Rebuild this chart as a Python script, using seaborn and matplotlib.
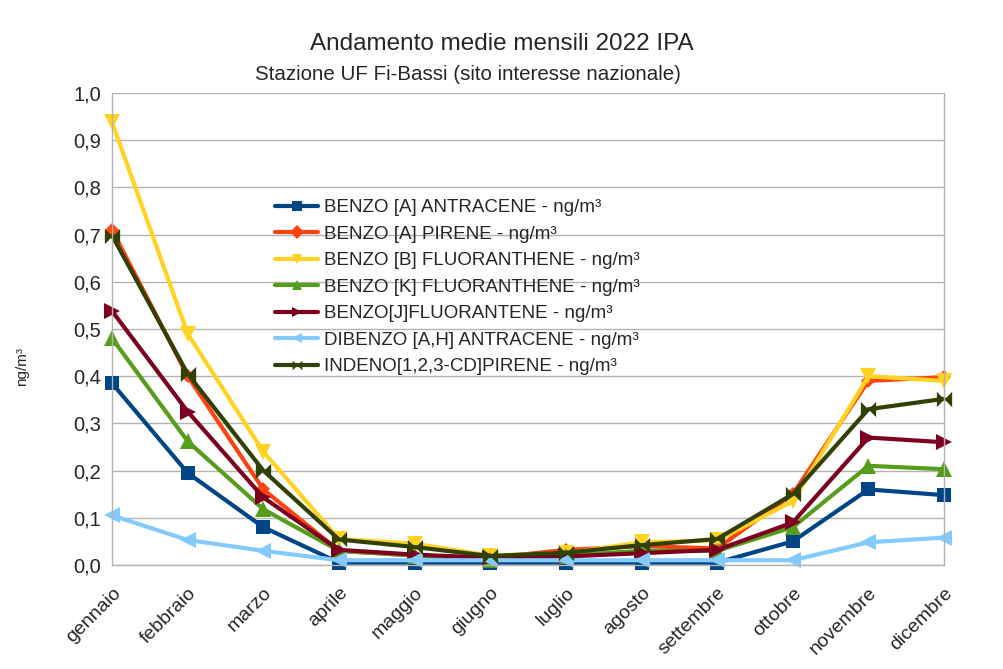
import numpy as np
import pandas as pd
import matplotlib
matplotlib.use("Agg")
import matplotlib.pyplot as plt
import seaborn as sns

# months and series (ng/m3)
mesi = ["gennaio", "febbraio", "marzo", "aprile", "maggio", "giugno",
        "luglio", "agosto", "settembre", "ottobre", "novembre", "dicembre"]

benzo_a_antracene = [0.385, 0.195, 0.080, 0.005, 0.005, 0.005, 0.005, 0.005, 0.005, 0.050, 0.160, 0.148]
benzo_a_pirene = [0.710, 0.400, 0.160, 0.030, 0.020, 0.015, 0.032, 0.040, 0.035, 0.150, 0.390, 0.398]
benzo_b_fluoranthene = [0.938, 0.490, 0.240, 0.055, 0.045, 0.020, 0.025, 0.048, 0.052, 0.135, 0.400, 0.390]
benzo_k_fluoranthene = [0.480, 0.262, 0.118, 0.030, 0.020, 0.010, 0.020, 0.030, 0.030, 0.080, 0.210, 0.203]
benzo_j_fluorantene = [0.538, 0.325, 0.143, 0.032, 0.022, 0.015, 0.018, 0.025, 0.032, 0.090, 0.270, 0.260]
dibenzo_ah_antracene = [0.105, 0.053, 0.030, 0.010, 0.010, 0.010, 0.010, 0.010, 0.010, 0.010, 0.048, 0.058]
indeno_pirene = [0.698, 0.405, 0.200, 0.054, 0.038, 0.019, 0.026, 0.042, 0.055, 0.150, 0.330, 0.352]

nomi = ["BENZO [A] ANTRACENE - ng/m³",
        "BENZO [A] PIRENE - ng/m³",
        "BENZO [B] FLUORANTHENE - ng/m³",
        "BENZO [K] FLUORANTHENE - ng/m³",
        "BENZO[J]FLUORANTENE - ng/m³",
        "DIBENZO [A,H] ANTRACENE - ng/m³",
        "INDENO[1,2,3-CD]PIRENE - ng/m³"]
serie = [benzo_a_antracene, benzo_a_pirene, benzo_b_fluoranthene, benzo_k_fluoranthene,
         benzo_j_fluorantene, dibenzo_ah_antracene, indeno_pirene]

colori = ["#004586", "#ff420e", "#ffd320", "#579d1c", "#7e0021", "#83caff", "#314004"]
bowtie = [(-1, -1), (1, 1), (1, -1), (-1, 1), (-1, -1)]
marcatori = ["s", "D", "v", "^", ">", "<", bowtie]
dimensioni = [10, 7, 11, 11, 11, 11, 11]

# long-format table
rows = []
for nome, vals in zip(nomi, serie):
    for m, v in zip(mesi, vals):
        rows.append({"mese": m, "valore": v, "serie": nome})
df = pd.DataFrame(rows)

sns.set_style("white")
plt.rcParams["font.family"] = ["Liberation Sans", "DejaVu Sans"]

fig = plt.figure(figsize=(10.04, 6.69), dpi=100)
ax = fig.add_axes([0.1116, 0.1555, 0.8287, 0.7055])

for nome, col, mk, ms in zip(nomi, colori, marcatori, dimensioni):
    sub = df[df["serie"] == nome]
    sns.lineplot(data=sub, x="mese", y="valore", ax=ax, color=col, marker=mk,
                 markersize=ms, markeredgewidth=0, linewidth=3, label=nome,
                 sort=False, clip_on=False)

ax.set_xlim(0, 11)
ax.set_ylim(0, 1.0)
yt = np.arange(0, 1.01, 0.1)
ax.set_yticks(yt)
ax.set_yticklabels([f"{t:.1f}".replace(".", ",") for t in yt])
ax.yaxis.grid(True, color="#b3b3b3", linewidth=1)
ax.xaxis.grid(False)
ax.set_axisbelow(True)
for s in ["left", "right", "bottom"]:
    ax.spines[s].set_color("#b3b3b3")
    ax.spines[s].set_linewidth(1)
ax.spines["top"].set_visible(False)
ax.tick_params(axis="x", length=6, color="#b3b3b3", labelsize=14, pad=8)
ax.tick_params(axis="y", length=0, labelsize=14.5, pad=8)
plt.setp(ax.get_xticklabels(), rotation=45, ha="right", rotation_mode="anchor")
ax.set_xlabel("")
ax.set_ylabel("")
fig.text(22 / 1004, 1 - 367 / 669, "ng/m³", rotation=90, ha="center", va="center", fontsize=11)

leg = ax.legend(loc="upper left", bbox_to_anchor=(0.196, 0.775), frameon=False,
                fontsize=13.5, handlelength=2.3, labelspacing=0.5, handletextpad=0.3,
                borderaxespad=0, borderpad=0)
for h in leg.legend_handles:
    h.set_markersize(7)

fig.text(0.5, 1 - 44 / 669, "Andamento medie mensili 2022 IPA", ha="center", va="center", fontsize=17.5)
fig.text(468 / 1004, 1 - 75 / 669, "Stazione UF Fi-Bassi (sito interesse nazionale)", ha="center",
         va="center", fontsize=14.8)

fig.savefig("out.png", dpi=100)
